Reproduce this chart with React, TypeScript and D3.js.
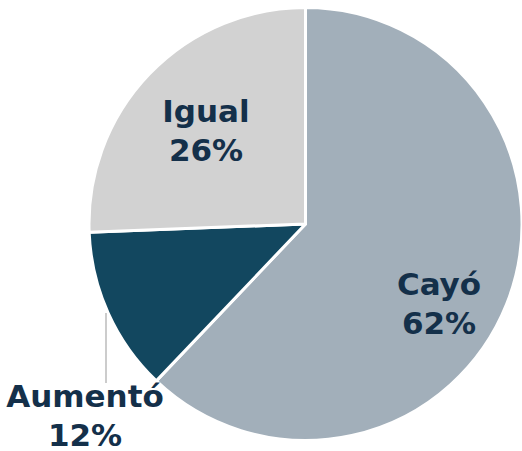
import React from "react";
import * as d3 from "d3";

const categories = ["Cayó", "Aumentó", "Igual"];
const values = [62.1, 12.3, 25.6];
const colors = ["#a2afba", "#12475f", "#d2d2d2"];

const W = 522;
const H = 451;
const cx = 305.5;
const cy = 224;
const R = 216.5;

// label anchor positions (center x, first baseline y)
const labelPos: [number, number][] = [
  [439, 295],
  [85, 407],
  [206, 122],
];

export default function App() {
  const pie = d3
    .pie<number>()
    .sort(null)
    .value((d) => d)(values);
  const arc = d3.arc<d3.PieArcDatum<number>>().innerRadius(0).outerRadius(R);
  return (
    <svg
      width={W}
      height={H}
      style={{ position: "absolute", left: 0, top: 0, background: "#fff" }}
    >
      <g transform={`translate(${cx},${cy})`}>
        {pie.map((p, i) => (
          <path
            key={i}
            d={arc(p) || ""}
            fill={colors[i]}
            stroke="#fff"
            strokeWidth={3}
            strokeLinejoin="round"
          />
        ))}
      </g>
      <line x1={106} x2={106} y1={313} y2={383} stroke="#aaaaaa" strokeWidth={1.2} />
      {categories.map((c, i) => (
        <text
          key={c}
          x={labelPos[i][0]}
          y={labelPos[i][1]}
          textAnchor="middle"
          fontFamily="DejaVu Sans"
          fontWeight="bold"
          fontSize={31}
          fill="#14304a"
        >
          <tspan x={labelPos[i][0]}>{c}</tspan>
          <tspan x={labelPos[i][0]} dy={38.5}>
            {`${Math.round(values[i])}%`}
          </tspan>
        </text>
      ))}
    </svg>
  );
}
